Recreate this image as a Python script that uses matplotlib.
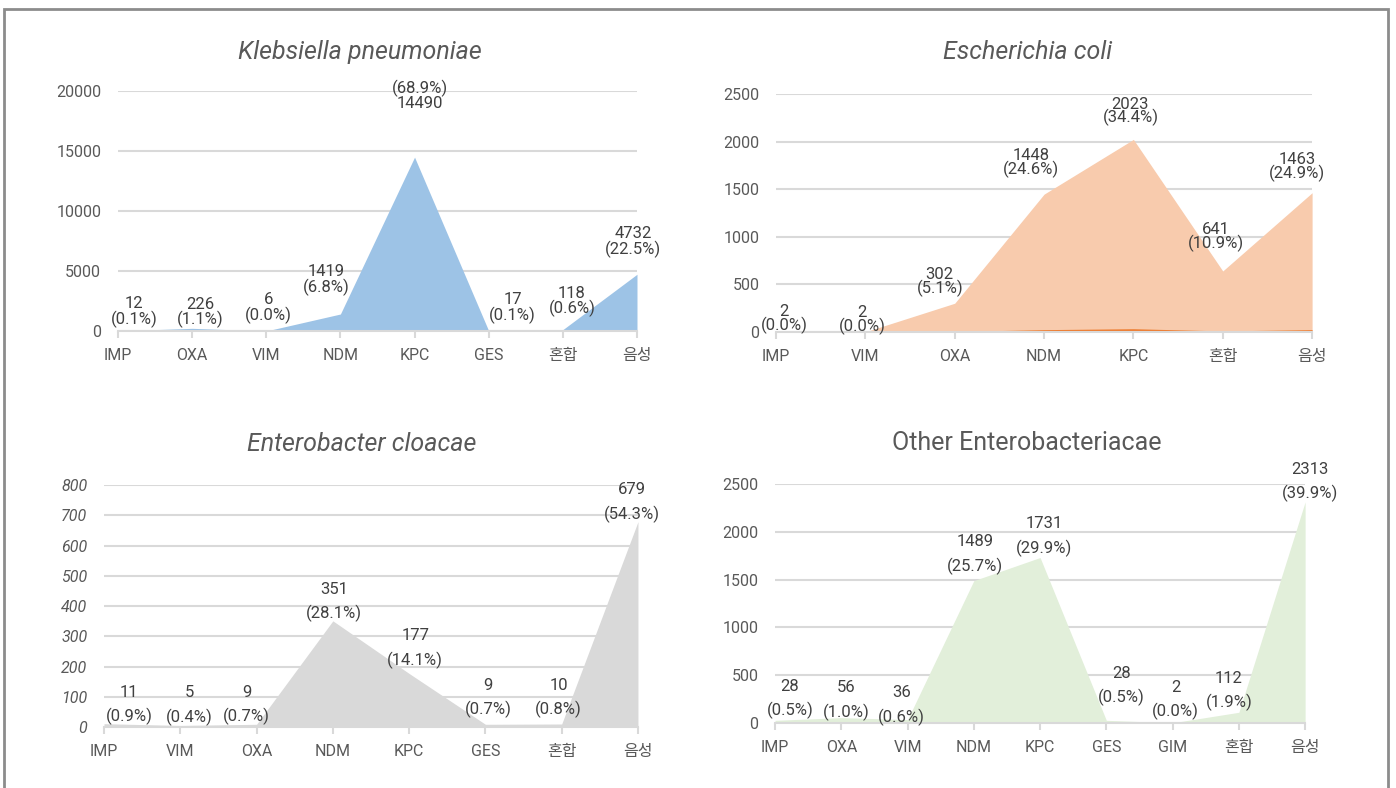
import matplotlib
matplotlib.use('Agg')
import matplotlib.pyplot as plt
from matplotlib.patches import Rectangle

plt.rcParams['font.family'] = ['Roboto', 'Noto Sans CJK KR']

# Klebsiella pneumoniae
kp_types = ['IMP', 'OXA', 'VIM', 'NDM', 'KPC', 'GES', '혼합', '음성']
kp_counts = [12, 226, 6, 1419, 14490, 17, 118, 4732]
kp_pcts = [0.1, 1.1, 0.0, 6.8, 68.9, 0.1, 0.6, 22.5]

# Escherichia coli
ec_types = ['IMP', 'VIM', 'OXA', 'NDM', 'KPC', '혼합', '음성']
ec_counts = [2, 2, 302, 1448, 2023, 641, 1463]
ec_pcts = [0.0, 0.0, 5.1, 24.6, 34.4, 10.9, 24.9]

# Enterobacter cloacae
ecl_types = ['IMP', 'VIM', 'OXA', 'NDM', 'KPC', 'GES', '혼합', '음성']
ecl_counts = [11, 5, 9, 351, 177, 9, 10, 679]
ecl_pcts = [0.9, 0.4, 0.7, 28.1, 14.1, 0.7, 0.8, 54.3]

# Other Enterobacteriacae
oe_types = ['IMP', 'OXA', 'VIM', 'NDM', 'KPC', 'GES', 'GIM', '혼합', '음성']
oe_counts = [28, 56, 36, 1489, 1731, 28, 2, 112, 2313]
oe_pcts = [0.5, 1.0, 0.6, 25.7, 29.9, 0.5, 0.0, 1.9, 39.9]

TXT = '#404040'
TICK = '#595959'
GRID = '#d9d9d9'

fig = plt.figure(figsize=(13.96, 7.88), dpi=100)


def panel(rect, title, title_xy, italic, types, counts, pcts, ymax, ystep,
          color, offsets, linesp, pct_first=None, ital_ticks=False):
    ax = fig.add_axes(rect)
    x = list(range(len(types)))
    ax.fill_between(x, counts, color=color, lw=0, zorder=2)
    ax.set_xlim(0, len(types) - 1)
    ax.set_ylim(0, ymax)
    ax.set_yticks(range(0, ymax + 1, ystep))
    ax.set_xticks(x)
    ax.set_xticklabels(types)
    ax.grid(axis='y', color=GRID, lw=1.5, zorder=1)
    for s in ['top', 'left', 'right']:
        ax.spines[s].set_visible(False)
    ax.spines['bottom'].set_color(GRID)
    ax.spines['bottom'].set_linewidth(1.5)
    ax.spines['bottom'].set_zorder(3)
    ax.tick_params(axis='x', length=5, width=1.5, color=GRID, pad=7,
                   labelsize=11.5, labelcolor=TICK)
    ax.tick_params(axis='y', length=0, pad=12, labelsize=11.5, labelcolor=TICK)
    if ital_ticks:
        for t in ax.get_yticklabels():
            t.set_fontstyle('italic')
    for i, (c, p) in enumerate(zip(counts, pcts)):
        txt = f'{c}\n({p:.1f}%)'
        if pct_first is not None and i == pct_first:
            txt = f'({p:.1f}%)\n{c}'
        dx, dy = offsets[i]
        ax.annotate(txt, xy=(i, c), xytext=(dx, dy), textcoords='offset pixels',
                    ha='center', va='center', fontsize=12, color=TXT,
                    linespacing=linesp, zorder=5, annotation_clip=False)
    ax.text(title_xy[0], title_xy[1], title, transform=ax.transAxes,
            ha='center', va='center', fontsize=18, color=TICK,
            fontstyle='italic' if italic else 'normal')
    ax.set_axisbelow(True)
    return ax


panel([0.0845, 0.5799, 0.3718, 0.3046], 'Klebsiella pneumoniae', (0.466, 1.1625),
      True, kp_types, kp_counts, kp_pcts, 20000, 5000, '#9dc3e6',
      [(16, 19), (8, 16), (2, 23), (-14, 34), (5, 62), (24, 23), (9, 28), (-4, 32)],
      0.95, pct_first=4)

ax2 = panel([0.5559, 0.5787, 0.3840, 0.3020], 'Escherichia coli', (0.47, 1.176),
            True, ec_types, ec_counts, ec_pcts, 2500, 500, '#f8cbad',
            [(8, 13), (-3, 12), (-15, 21), (-13, 31), (-3, 28), (-7, 34), (-15, 26)],
            0.8)
# percentage series drawn on the same axis
ax2.fill_between(range(len(ec_pcts)), ec_pcts, color='#ed7d31', lw=0, zorder=2.5)

panel([0.0745, 0.0774, 0.3825, 0.3071], 'Enterobacter cloacae', (0.483, 1.169),
      True, ecl_types, ecl_counts, ecl_pcts, 800, 100, '#d9d9d9',
      [(25, 19), (9, 20), (-10, 19), (1, 19), (6, 25), (3, 26), (-3, 26), (-6, 19)],
      1.6, ital_ticks=True)

panel([0.5552, 0.0825, 0.3797, 0.3033], 'Other Enterobacteriacae', (0.474, 1.172),
      False, oe_types, oe_counts, oe_pcts, 2500, 500, '#e2efda',
      [(15, 21), (5, 17), (-6, 14), (1, 26), (4, 21), (15, 34), (3, 23), (-10, 21), (5, 20)],
      1.6)

# outer frame
fig.patches.append(Rectangle((4 / 1396, -0.02), 1384 / 1396, 1.02 - 8.5 / 788,
                             transform=fig.transFigure, fill=False,
                             edgecolor='#8c8c8c', lw=2))

fig.savefig('out.png', dpi=100)
